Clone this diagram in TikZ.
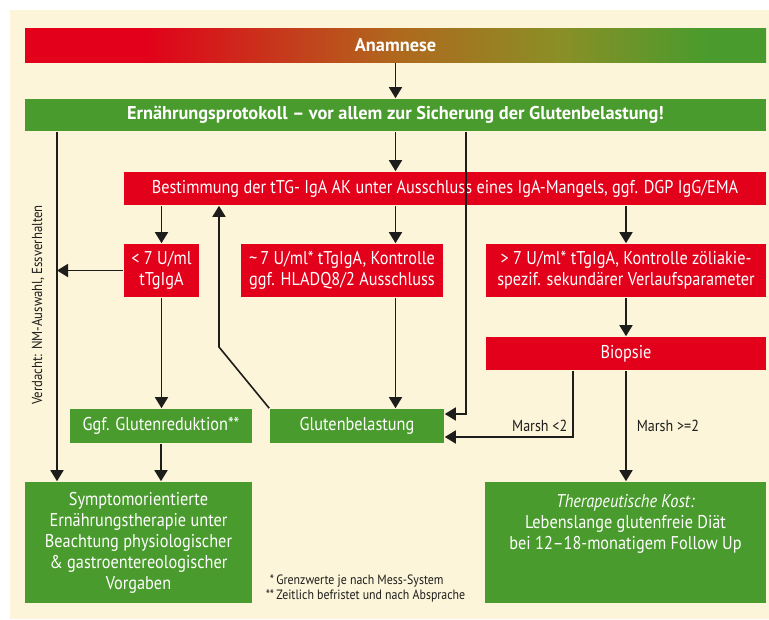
\documentclass[tikz,border=0pt]{standalone}
\usepackage{fontspec}
\setmainfont{PT Sans}[FakeStretch=0.88,BoldFeatures={FakeStretch=0.99}]
\usetikzlibrary{arrows.meta,positioning}

\definecolor{cream}{HTML}{FDF5DA}
\definecolor{boxred}{HTML}{E2001A}
\definecolor{boxgreen}{HTML}{4A9B2D}
\definecolor{linegray}{HTML}{1D1D1B}
\definecolor{midbrown}{HTML}{B0681D}
\definecolor{olive}{HTML}{8A8F26}

\pgfdeclarehorizontalshading{anamshade}{100bp}{color(0bp)=(boxred); color(33bp)=(boxred);
  color(50bp)=(midbrown); color(61bp)=(olive); color(71bp)=(boxgreen); color(100bp)=(boxgreen)}

\newcommand{\boxfont}{\fontsize{18.5}{21}\selectfont}
\newcommand{\smallfont}{\fontsize{16}{18}\selectfont}

\begin{document}
\begin{tikzpicture}[x=1pt,y=-1pt,>={Triangle[length=11pt,width=13pt]},line width=1.6pt]

   \tikzstyle{every node}=[font=\boxfont]
   \tikzstyle{redbox}=[fill=boxred,text=white,inner sep=0pt,align=center]
   \tikzstyle{greenbox}=[fill=boxgreen,text=white,inner sep=0pt,align=center]
   \tikzstyle{note}=[text=linegray,font=\smallfont,inner sep=0pt]
   \tikzstyle{conn}=[->,draw=linegray]

  \useasboundingbox (0,0) rectangle (769,619);
  \fill[cream] (10,10) rectangle (769,619);

  \node[shading=anamshade,text=white,inner sep=0pt,minimum width=741pt,minimum height=34pt,font=\boxfont\bfseries] (anam) at (395.5,45) {Anamnese};
  \node[greenbox,minimum width=741pt,minimum height=32pt,font=\boxfont\bfseries] (prot) at (395.5,115) {Ernährungsprotokoll – vor allem zur Sicherung der Glutenbelastung!};
  \node[redbox,minimum width=642pt,minimum height=33pt] (best) at (445,188.5) {Bestimmung der tTG- IgA AK unter Ausschluss eines IgA-Mangels, ggf. DGP IgG/EMA};

  \node[redbox,minimum width=75pt,minimum height=53pt] (low) at (161.5,270.5) {< 7 U/ml\\tTgIgA};
  \node[redbox,minimum width=202pt,minimum height=53pt] (mid) at (342,270.5) {\textasciitilde\,7 U/ml* tTgIgA, Kontrolle\\ggf. HLADQ8/2 Ausschluss};
  \node[redbox,minimum width=280pt,minimum height=53pt] (high) at (626,270.5) {> 7 U/ml* tTgIgA, Kontrolle zöliakie-\\spezif. sekundärer Verlaufsparameter};
  \node[redbox,minimum width=280pt,minimum height=33pt] (biop) at (626,353.5) {Biopsie};

  \node[greenbox,minimum width=182pt,minimum height=34pt] (red) at (161,426) {Ggf. Glutenreduktion**};
  \node[greenbox,minimum width=174pt,minimum height=34pt] (belast) at (357,426) {Glutenbelastung};

  \node[greenbox,minimum width=227pt,minimum height=121pt] (sympt) at (138.5,542.5) {Symptomorientierte\\Ernährungstherapie unter\\Beachtung physiologischer\\\& gastroentereologischer\\Vorgaben};
  \node[greenbox,minimum width=281pt,minimum height=121pt] (thera) at (625.5,542.5) {\textit{Therapeutische Kost:}\\Lebenslange glutenfreie Diät\\bei 12–18-monatigem Follow Up\\\mbox{}\\\mbox{}};

  \node[note,rotate=90,font=\fontsize{14.5}{16}\selectfont] (verd) at (38,305) {Verdacht: NM-Auswahl, Essverhalten};
  \node[note,anchor=north west,font=\fontsize{13.5}{15}\selectfont] (foot) at (265,573)
     {\begin{tabular}{@{}r@{\,}l@{}}{*}&Grenzwerte je nach Mess-System\\{**}&Zeitlich befristet und nach Absprache\end{tabular}};

  \coordinate (vl) at (57,0);
  \coordinate (rl) at (466,0);
  \coordinate (bl) at (573,0);
  \coordinate (bend) at (219,347);

%straight arrows
 \draw[conn] (anam) -- (prot);
 \draw[conn] (prot.south) -- (best.north -| prot);
 \draw[conn] (best.south -| low) -- (low.north);
 \draw[conn] (best.south -| prot) -- (mid.north -| prot);
 \draw[conn] (best.south -| high) -- (high.north);
 \draw[conn] (mid.south -| prot) -- (belast.north -| prot);
 \draw[conn] (low.south) -- (red.north -| low);
 \draw[conn] (red.south) -- (sympt.north -| red);
 \draw[conn] (high.south) -- (biop.north);
 \draw[conn] (biop.south) -- node[note,right,xshift=10pt] {Marsh >=2} (thera.north -| biop);

%bent arrows
 \draw[conn] (prot.south -| vl) -- (sympt.north -| vl);
 \draw[conn] (low.west) -- (low.west -| vl);
 \draw[conn] (prot.south -| rl) |- ([yshift=12pt]belast.east);
 \draw[conn] (biop.south -| bl) |- node[note,pos=0.5,above left,xshift=-5pt,yshift=5pt] {Marsh <2} ([yshift=-11pt]belast.east);
 \draw[conn] (belast.north west) -- (bend) -- (bend |- best.south);

\end{tikzpicture}
\end{document}
